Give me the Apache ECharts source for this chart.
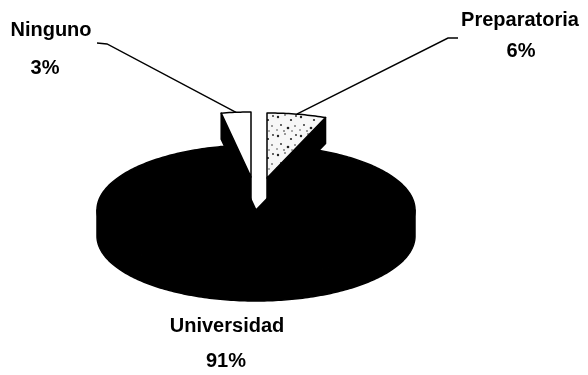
<!DOCTYPE html>
<html>
<head>
<meta charset="utf-8">
<script src="https://cdn.jsdelivr.net/npm/echarts@6/dist/echarts.min.js"></script>
<style>
  html, body { margin: 0; padding: 0; background: #fff; }
  #chart { width: 588px; height: 375px; }
</style>
</head>
<body>
<div id="chart"></div>
<script>
// Slices in clockwise order starting at 12 o'clock
const categories = ['Preparatoria', 'Universidad', 'Ninguno'];
const values = [6, 91, 3];

// 3D pie geometry (pixels)
const CX = 256, CY = 210, RX = 159, RY = 65, DEPTH = 26;
// Explosion offset of each slice
const explode = [[11, -32], [0, 0], [-5, -33]];
// Label placement: name line, percent line, leader line start (label side)
const labelLayout = [
  { name: [520, 20.5], pct: [521, 51], leader: [[458, 38], [448, 38]] },
  { name: [227, 326], pct: [226, 361], leader: null },
  { name: [51, 30.5], pct: [45, 68], leader: [[97, 43], [107, 44]] }
];
const faceFill = ['stipple', '#000000', '#ffffff'];

const total = values.reduce((a, b) => a + b, 0);
const starts = [];
values.reduce((acc, v, i) => { starts[i] = acc; return acc + v; }, 0);

// Stippled fill for the light slice
function makeStipple() {
  const c = document.createElement('canvas');
  c.width = 23; c.height = 19;
  const g = c.getContext('2d');
  g.fillStyle = '#f7f7f7';
  g.fillRect(0, 0, 23, 19);
  const dots = [[2, 3, 1.2], [9, 1, 0.8], [15, 6, 1.1], [5, 11, 0.9], [12, 14, 1.3],
                [19, 12, 0.8], [20, 2, 0.9], [8, 17, 0.8], [16, 17, 0.7], [1, 16, 0.7]];
  g.fillStyle = '#222';
  dots.forEach(d => { g.beginPath(); g.arc(d[0], d[1], d[2], 0, Math.PI * 2); g.fill(); });
  return { image: c, repeat: 'repeat' };
}
const stipple = makeStipple();

function pt(aDeg, ox, oy, dz) {
  const a = aDeg * Math.PI / 180;
  return [CX + RX * Math.cos(a) + ox, CY - RY * Math.sin(a) + oy + (dz || 0)];
}
function arc(a0, a1, ox, oy, dz) {
  // from a0 down to a1 (a1 < a0)
  const pts = [];
  const n = Math.max(2, Math.ceil((a0 - a1) / 1));
  for (let k = 0; k <= n; k++) pts.push(pt(a0 - (a0 - a1) * k / n, ox, oy, dz));
  return pts;
}

function renderItem(params, api) {
  const i = params.dataIndex;
  const v = api.value(0);
  const a0 = 90 - starts[i] / total * 360;
  const a1 = 90 - (starts[i] + v) / total * 360;
  const [ox, oy] = explode[i];
  const c = [CX + ox, CY + oy];
  const cb = [CX + ox, CY + oy + DEPTH];
  const fill = faceFill[i] === 'stipple' ? stipple : faceFill[i];
  const z = i === 1 ? 10 : 0;
  const edge = { stroke: '#000', lineWidth: 1.5, lineJoin: 'round' };
  const children = [];

  // radial face at a0 (visible when it turns toward the viewer)
  if (Math.cos(a0 * Math.PI / 180) < 0) {
    children.push({ type: 'polygon', z2: z,
      shape: { points: [c, pt(a0, ox, oy), pt(a0, ox, oy, DEPTH), cb] },
      style: Object.assign({ fill: '#000' }, edge) });
  }
  // radial face at a1
  if (Math.cos(a1 * Math.PI / 180) > 0) {
    children.push({ type: 'polygon', z2: z,
      shape: { points: [c, pt(a1, ox, oy), pt(a1, ox, oy, DEPTH), cb] },
      style: Object.assign({ fill: '#000' }, edge) });
  }
  // outer wall on the front half
  for (let k = -2; k <= 1; k++) {
    const lo = Math.max(a1, -180 + 360 * k);
    const hi = Math.min(a0, 360 * k);
    if (hi > lo) {
      const top = arc(hi, lo, ox, oy, 0);
      const bot = arc(hi, lo, ox, oy, DEPTH).reverse();
      children.push({ type: 'polygon', z2: z,
        shape: { points: top.concat(bot) },
        style: Object.assign({ fill: '#000' }, edge) });
    }
  }
  // top face
  children.push({ type: 'polygon', z2: z + 1,
    shape: { points: [c].concat(arc(a0, a1, ox, oy, 0)) },
    style: Object.assign({ fill: fill }, edge) });

  // label
  const L = labelLayout[i];
  const pct = Math.round(v / total * 100) + '%';
  const font = 'bold 20px "Liberation Sans", Arial, sans-serif';
  if (L.leader) {
    const mid = pt((a0 + a1) / 2, ox, oy, 0);
    children.push({ type: 'polyline', z2: 20,
      shape: { points: L.leader.concat([mid]) },
      style: { stroke: '#000', lineWidth: 1.4, fill: null } });
  }
  children.push({ type: 'text', z2: 20,
    style: { text: categories[i], x: L.name[0], y: L.name[1], font: font,
             fill: '#000', align: 'center', verticalAlign: 'middle' } });
  children.push({ type: 'text', z2: 20,
    style: { text: pct, x: L.pct[0], y: L.pct[1], font: font,
             fill: '#000', align: 'center', verticalAlign: 'middle' } });

  return { type: 'group', children: children };
}

const chart = echarts.init(document.getElementById('chart'), null, { renderer: 'canvas' });
chart.setOption({
  backgroundColor: '#ffffff',
  animation: false,
  series: [{
    type: 'custom',
    coordinateSystem: 'none',
    renderItem: renderItem,
    data: values.map((v, i) => ({ name: categories[i], value: [v] }))
  }]
});
</script>
</body>
</html>
